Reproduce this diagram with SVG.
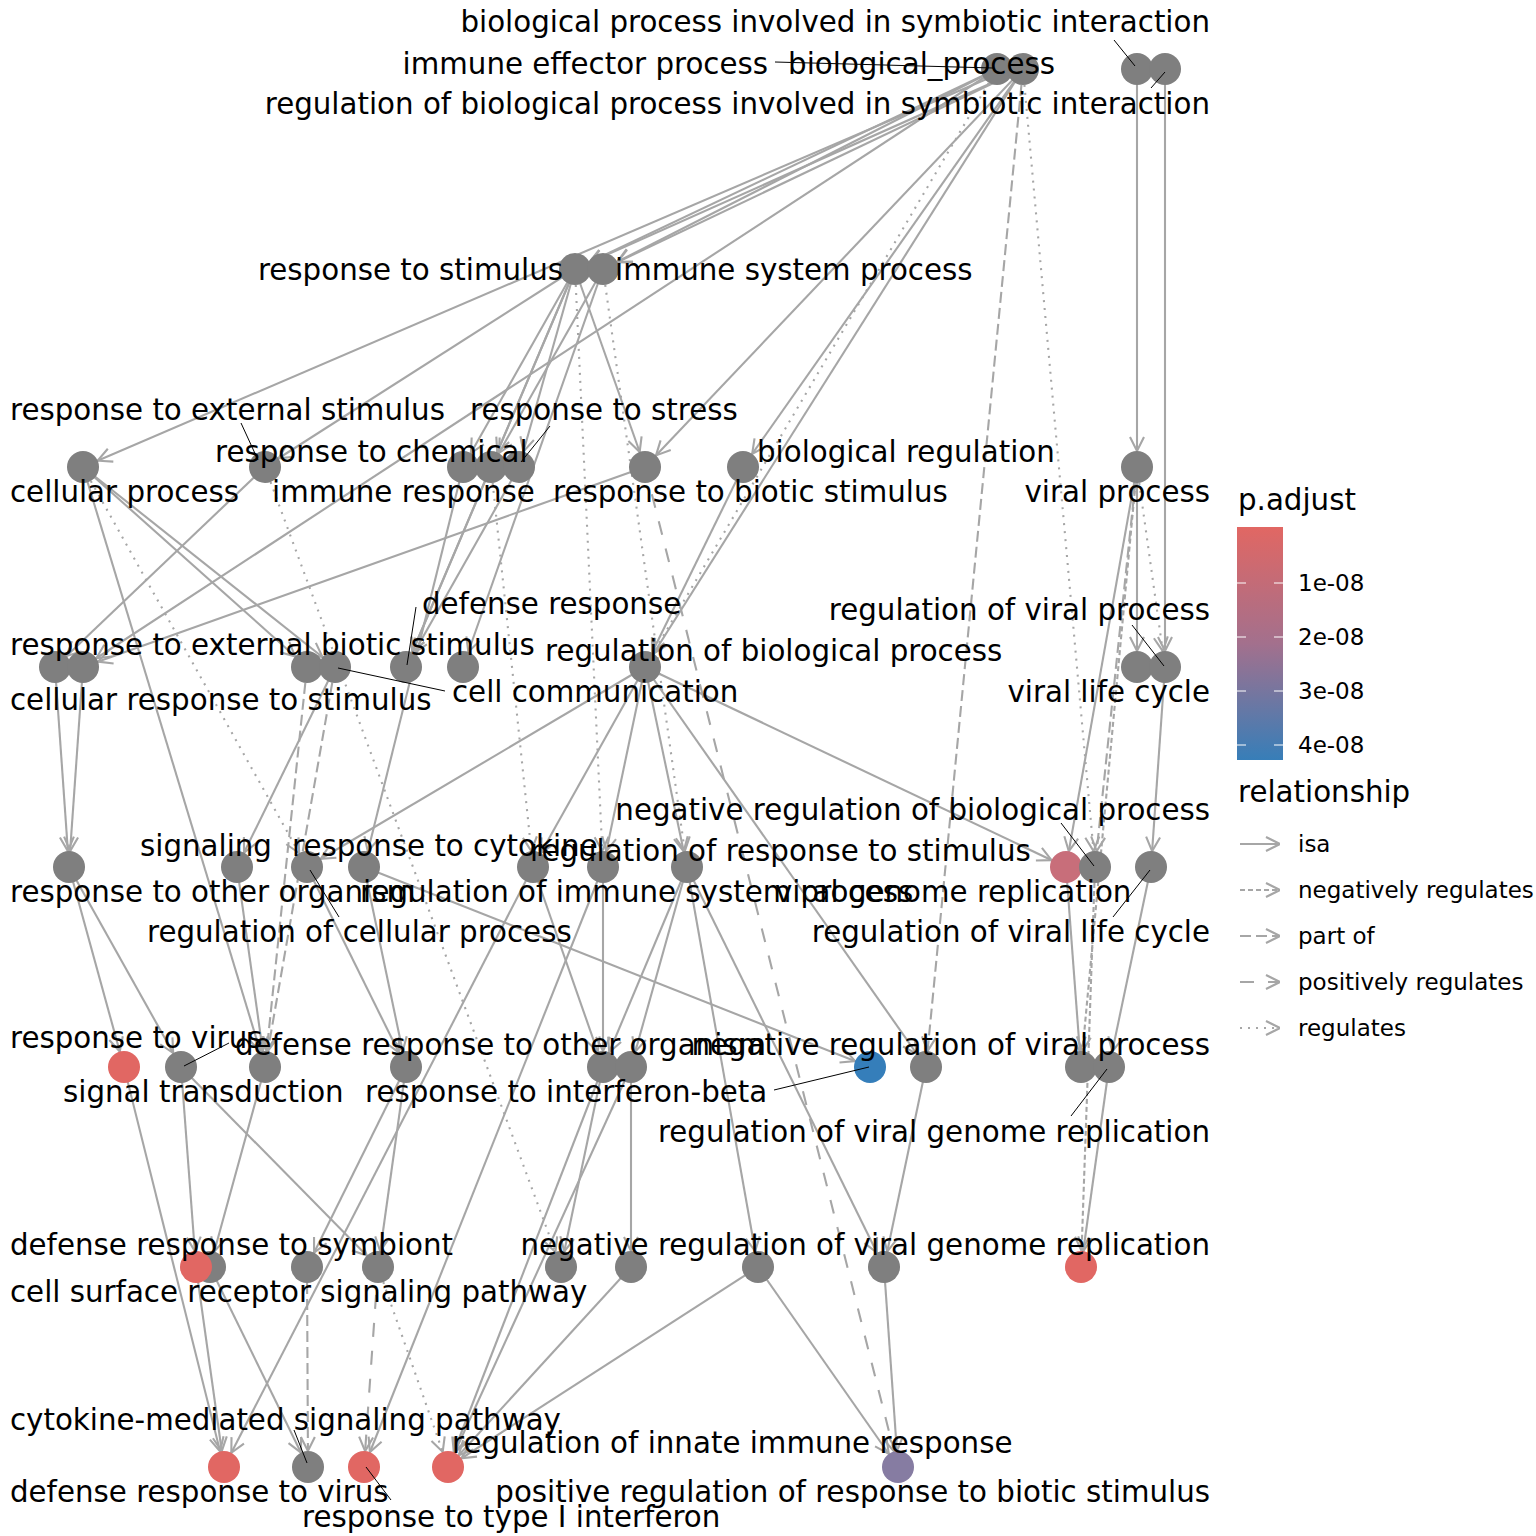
<svg xmlns="http://www.w3.org/2000/svg" width="1536" height="1536" viewBox="0 0 1536 1536">
<style>
text{font-family:"DejaVu Sans","Liberation Sans",sans-serif;fill:#000}
.lb{font-size:29.3px}
.lg{font-size:23px}
.e{stroke:#A6A6A6;stroke-width:2.1;fill:none}
.isa{marker-end:url(#aS)}
.neg{stroke-dasharray:5 3;marker-end:url(#aS)}
.part{stroke-dasharray:11 5;marker-end:url(#aS)}
.pos{stroke-dasharray:14 14;marker-end:url(#aS)}
.reg{stroke-dasharray:2 6;marker-end:url(#aS)}
.k{stroke:#A6A6A6;stroke-width:2.1;fill:none;marker-end:url(#aL)}
.g{fill:#7F7F7F}
.r{fill:#E16763}
.ld{stroke:#000;stroke-width:1}
</style>
<defs>
<marker id="aS" viewBox="-40 -20 40 40" markerWidth="40" markerHeight="40" refX="0" refY="0" orient="auto" markerUnits="userSpaceOnUse">
<path d="M-30,-7 L-16,0 L-30,7" fill="none" stroke="#A6A6A6" stroke-width="2.1"/>
</marker>
<marker id="aL" viewBox="-40 -20 40 40" markerWidth="40" markerHeight="40" refX="0" refY="0" orient="auto" markerUnits="userSpaceOnUse">
<path d="M-14,-7 L0,0 L-14,7" fill="none" stroke="#A6A6A6" stroke-width="2.1"/>
</marker>
<linearGradient id="grad" x1="0" y1="0" x2="0" y2="1">
<stop offset="0" stop-color="#E16763"/>
<stop offset="0.5" stop-color="#A3708D"/>
<stop offset="1" stop-color="#377EB8"/>
</linearGradient>
</defs>
<rect width="1536" height="1536" fill="#fff"/>
<g id="connectors">
<line class="e isa" x1="1023" y1="69" x2="575" y2="269"/>
<line class="e isa" x1="997" y1="69" x2="575" y2="269"/>
<line class="e isa" x1="1023" y1="69" x2="603" y2="269"/>
<line class="e isa" x1="997" y1="69" x2="603" y2="269"/>
<line class="e isa" x1="1010" y1="69" x2="83" y2="467"/>
<line class="e isa" x1="997" y1="69" x2="83" y2="667"/>
<line class="e isa" x1="1023" y1="69" x2="743" y2="467"/>
<line class="e isa" x1="1023" y1="69" x2="645" y2="467"/>
<line class="e isa" x1="1023" y1="69" x2="645" y2="667"/>
<line class="e isa" x1="1137" y1="69" x2="1137" y2="467"/>
<line class="e isa" x1="1165" y1="69" x2="1165" y2="667"/>
<line class="e isa" x1="575" y1="269" x2="265" y2="467"/>
<line class="e isa" x1="575" y1="269" x2="463" y2="467"/>
<line class="e isa" x1="575" y1="269" x2="491" y2="467"/>
<line class="e isa" x1="575" y1="269" x2="519" y2="467"/>
<line class="e isa" x1="575" y1="269" x2="645" y2="467"/>
<line class="e isa" x1="575" y1="269" x2="406" y2="667"/>
<line class="e isa" x1="603" y1="269" x2="491" y2="467"/>
<line class="e isa" x1="603" y1="269" x2="463" y2="667"/>
<line class="e isa" x1="83" y1="467" x2="307" y2="667"/>
<line class="e isa" x1="83" y1="467" x2="335" y2="667"/>
<line class="e isa" x1="83" y1="467" x2="265" y2="1067"/>
<line class="e isa" x1="265" y1="467" x2="55" y2="667"/>
<line class="e isa" x1="645" y1="467" x2="83" y2="667"/>
<line class="e isa" x1="519" y1="467" x2="406" y2="667"/>
<line class="e isa" x1="491" y1="467" x2="406" y2="667"/>
<line class="e isa" x1="463" y1="467" x2="364" y2="867"/>
<line class="e isa" x1="743" y1="467" x2="645" y2="667"/>
<line class="e isa" x1="1137" y1="467" x2="1137" y2="667"/>
<line class="e isa" x1="1137" y1="467" x2="1066" y2="867"/>
<line class="e isa" x1="55" y1="667" x2="69" y2="867"/>
<line class="e isa" x1="83" y1="667" x2="69" y2="867"/>
<line class="e isa" x1="335" y1="667" x2="237" y2="867"/>
<line class="e isa" x1="645" y1="667" x2="307" y2="867"/>
<line class="e isa" x1="645" y1="667" x2="533" y2="867"/>
<line class="e isa" x1="645" y1="667" x2="603" y2="867"/>
<line class="e isa" x1="645" y1="667" x2="687" y2="867"/>
<line class="e isa" x1="645" y1="667" x2="1066" y2="867"/>
<line class="e isa" x1="645" y1="667" x2="926" y2="1067"/>
<line class="e isa" x1="1165" y1="667" x2="1151" y2="867"/>
<line class="e isa" x1="69" y1="867" x2="124" y2="1067"/>
<line class="e isa" x1="69" y1="867" x2="181" y2="1067"/>
<line class="e isa" x1="237" y1="867" x2="265" y2="1067"/>
<line class="e isa" x1="307" y1="867" x2="406" y2="1067"/>
<line class="e isa" x1="364" y1="867" x2="406" y2="1067"/>
<line class="e isa" x1="364" y1="867" x2="870" y2="1067"/>
<line class="e isa" x1="533" y1="867" x2="603" y2="1067"/>
<line class="e isa" x1="533" y1="867" x2="224" y2="1467"/>
<line class="e isa" x1="603" y1="867" x2="364" y2="1467"/>
<line class="e isa" x1="687" y1="867" x2="631" y2="1067"/>
<line class="e isa" x1="687" y1="867" x2="603" y2="1067"/>
<line class="e isa" x1="687" y1="867" x2="758" y2="1267"/>
<line class="e isa" x1="687" y1="867" x2="884" y2="1267"/>
<line class="e isa" x1="603" y1="867" x2="603" y2="1067"/>
<line class="e isa" x1="1066" y1="867" x2="1081" y2="1067"/>
<line class="e isa" x1="1151" y1="867" x2="1109" y2="1067"/>
<line class="e isa" x1="124" y1="1067" x2="224" y2="1467"/>
<line class="e isa" x1="181" y1="1067" x2="196" y2="1267"/>
<line class="e isa" x1="181" y1="1067" x2="378" y2="1267"/>
<line class="e isa" x1="265" y1="1067" x2="210" y2="1267"/>
<line class="e isa" x1="406" y1="1067" x2="307" y2="1267"/>
<line class="e isa" x1="406" y1="1067" x2="378" y2="1267"/>
<line class="e isa" x1="603" y1="1067" x2="561" y2="1267"/>
<line class="e isa" x1="603" y1="1067" x2="448" y2="1467"/>
<line class="e isa" x1="631" y1="1067" x2="448" y2="1467"/>
<line class="e isa" x1="631" y1="1067" x2="631" y2="1267"/>
<line class="e isa" x1="926" y1="1067" x2="884" y2="1267"/>
<line class="e isa" x1="1109" y1="1067" x2="1081" y2="1267"/>
<line class="e isa" x1="196" y1="1267" x2="224" y2="1467"/>
<line class="e isa" x1="210" y1="1267" x2="308" y2="1467"/>
<line class="e isa" x1="631" y1="1267" x2="448" y2="1467"/>
<line class="e isa" x1="758" y1="1267" x2="448" y2="1467"/>
<line class="e isa" x1="758" y1="1267" x2="898" y2="1467"/>
<line class="e isa" x1="884" y1="1267" x2="898" y2="1467"/>
<line class="e reg" x1="575" y1="269" x2="603" y2="867"/>
<line class="e reg" x1="603" y1="269" x2="687" y2="867"/>
<line class="e reg" x1="83" y1="467" x2="307" y2="867"/>
<line class="e reg" x1="265" y1="467" x2="561" y2="1267"/>
<line class="e reg" x1="1023" y1="69" x2="1095" y2="867"/>
<line class="e reg" x1="997" y1="69" x2="645" y2="667"/>
<line class="e reg" x1="1137" y1="467" x2="1165" y2="667"/>
<line class="e reg" x1="491" y1="467" x2="533" y2="867"/>
<line class="e reg" x1="378" y1="1267" x2="448" y2="1467"/>
<line class="e neg" x1="1137" y1="467" x2="1081" y2="1067"/>
<line class="e neg" x1="1095" y1="867" x2="1081" y2="1267"/>
<line class="e part" x1="1023" y1="69" x2="926" y2="1067"/>
<line class="e part" x1="307" y1="667" x2="265" y2="1067"/>
<line class="e part" x1="335" y1="667" x2="265" y2="1067"/>
<line class="e part" x1="1137" y1="467" x2="1095" y2="867"/>
<line class="e part" x1="307" y1="1267" x2="308" y2="1467"/>
<line class="e pos" x1="645" y1="467" x2="898" y2="1467"/>
<line class="e pos" x1="378" y1="1267" x2="364" y2="1467"/>
</g>
<g id="nodes">
<g id="n_iep"><circle class="g" cx="997" cy="69" r="16"/></g>
<g id="n_bp"><circle class="g" cx="1023" cy="69" r="16"/></g>
<g id="n_bpsi"><circle class="g" cx="1137" cy="69" r="16"/></g>
<g id="n_rbpsi"><circle class="g" cx="1165" cy="69" r="16"/></g>
<g id="n_rs"><circle class="g" cx="575" cy="269" r="16"/></g>
<g id="n_isp"><circle class="g" cx="603" cy="269" r="16"/></g>
<g id="n_cp"><circle class="g" cx="83" cy="467" r="16"/></g>
<g id="n_res"><circle class="g" cx="265" cy="467" r="16"/></g>
<g id="n_rc"><circle class="g" cx="463" cy="467" r="16"/></g>
<g id="n_ir"><circle class="g" cx="491" cy="467" r="16"/></g>
<g id="n_rst"><circle class="g" cx="519" cy="467" r="16"/></g>
<g id="n_rbs"><circle class="g" cx="645" cy="467" r="16"/></g>
<g id="n_br"><circle class="g" cx="743" cy="467" r="16"/></g>
<g id="n_vp"><circle class="g" cx="1137" cy="467" r="16"/></g>
<g id="n_rebs"><circle class="g" cx="55" cy="667" r="16"/></g>
<g id="n_crs"><circle class="g" cx="83" cy="667" r="16"/></g>
<g id="n_307_667"><circle class="g" cx="307" cy="667" r="16"/></g>
<g id="n_cc"><circle class="g" cx="335" cy="667" r="16"/></g>
<g id="n_dr"><circle class="g" cx="406" cy="667" r="16"/></g>
<g id="n_463_667"><circle class="g" cx="463" cy="667" r="16"/></g>
<g id="n_rbp"><circle class="g" cx="645" cy="667" r="16"/></g>
<g id="n_vlc"><circle class="g" cx="1137" cy="667" r="16"/></g>
<g id="n_rvp"><circle class="g" cx="1165" cy="667" r="16"/></g>
<g id="n_roo"><circle class="g" cx="69" cy="867" r="16"/></g>
<g id="n_sig"><circle class="g" cx="237" cy="867" r="16"/></g>
<g id="n_rcp"><circle class="g" cx="307" cy="867" r="16"/></g>
<g id="n_rcy"><circle class="g" cx="364" cy="867" r="16"/></g>
<g id="n_533_867"><circle class="g" cx="533" cy="867" r="16"/></g>
<g id="n_603_867"><circle class="g" cx="603" cy="867" r="16"/></g>
<g id="n_687_867"><circle class="g" cx="687" cy="867" r="16"/></g>
<g id="n_vgr"><circle fill="#C86E7A" cx="1066" cy="867" r="16"/></g>
<g id="n_nrbp"><circle class="g" cx="1095" cy="867" r="16"/></g>
<g id="n_rvlc"><circle class="g" cx="1151" cy="867" r="16"/></g>
<g id="n_rv"><circle class="r" cx="124" cy="1067" r="16"/></g>
<g id="n_droo"><circle class="g" cx="181" cy="1067" r="16"/></g>
<g id="n_st"><circle class="g" cx="265" cy="1067" r="16"/></g>
<g id="n_406_1067"><circle class="g" cx="406" cy="1067" r="16"/></g>
<g id="n_603_1067"><circle class="g" cx="603" cy="1067" r="16"/></g>
<g id="n_631_1067"><circle class="g" cx="631" cy="1067" r="16"/></g>
<g id="n_rib"><circle fill="#357EBA" cx="870" cy="1067" r="16"/></g>
<g id="n_nrvp"><circle class="g" cx="926" cy="1067" r="16"/></g>
<g id="n_1081_1067"><circle class="g" cx="1081" cy="1067" r="16"/></g>
<g id="n_rvgr"><circle class="g" cx="1109" cy="1067" r="16"/></g>
<g id="n_210_1267"><circle class="g" cx="210" cy="1267" r="16"/></g>
<g id="n_drs"><circle class="r" cx="196" cy="1267" r="16"/></g>
<g id="n_307_1267"><circle class="g" cx="307" cy="1267" r="16"/></g>
<g id="n_378_1267"><circle class="g" cx="378" cy="1267" r="16"/></g>
<g id="n_561_1267"><circle class="g" cx="561" cy="1267" r="16"/></g>
<g id="n_631_1267"><circle class="g" cx="631" cy="1267" r="16"/></g>
<g id="n_758_1267"><circle class="g" cx="758" cy="1267" r="16"/></g>
<g id="n_884_1267"><circle class="g" cx="884" cy="1267" r="16"/></g>
<g id="n_nrvgr"><circle class="r" cx="1081" cy="1267" r="16"/></g>
<g id="n_drv"><circle class="r" cx="224" cy="1467" r="16"/></g>
<g id="n_cmsp"><circle class="g" cx="308" cy="1467" r="16"/></g>
<g id="n_rt1"><circle class="r" cx="364" cy="1467" r="16"/></g>
<g id="n_riir"><circle class="r" cx="448" cy="1467" r="16"/></g>
<g id="n_prrbs"><circle fill="#867CA2" cx="898" cy="1467" r="16"/></g>
</g>
<g id="labels">
<line class="ld" x1="1114" y1="40" x2="1135" y2="66"/>
<line class="ld" x1="775" y1="62" x2="993" y2="68"/>
<line class="ld" x1="1151" y1="88" x2="1165" y2="72"/>
<line class="ld" x1="241" y1="423" x2="258" y2="460"/>
<line class="ld" x1="550" y1="426" x2="521" y2="462"/>
<line class="ld" x1="416" y1="607" x2="407" y2="665"/>
<line class="ld" x1="338" y1="668" x2="445" y2="691"/>
<line class="ld" x1="1132" y1="625" x2="1164" y2="666"/>
<line class="ld" x1="310" y1="870" x2="339" y2="917"/>
<line class="ld" x1="1061" y1="823" x2="1094" y2="866"/>
<line class="ld" x1="1150" y1="870" x2="1113" y2="917"/>
<line class="ld" x1="229" y1="1043" x2="184" y2="1066"/>
<line class="ld" x1="774" y1="1090" x2="869" y2="1067"/>
<line class="ld" x1="1071" y1="1116" x2="1107" y2="1069"/>
<line class="ld" x1="294" y1="1430" x2="307" y2="1463"/>
<line class="ld" x1="366" y1="1467" x2="391" y2="1500"/>
<text class="lb" x="1210" y="32" text-anchor="end">biological process involved in symbiotic interaction</text>
<text class="lb" x="768" y="74" text-anchor="end">immune effector process</text>
<text class="lb" x="1055" y="74" text-anchor="end">biological_process</text>
<text class="lb" x="1210" y="114" text-anchor="end">regulation of biological process involved in symbiotic interaction</text>
<text class="lb" x="563" y="280" text-anchor="end">response to stimulus</text>
<text class="lb" x="615" y="280">immune system process</text>
<text class="lb" x="10" y="420">response to external stimulus</text>
<text class="lb" x="470" y="420">response to stress</text>
<text class="lb" x="215" y="462">response to chemical</text>
<text class="lb" x="757" y="462">biological regulation</text>
<text class="lb" x="10" y="502">cellular process</text>
<text class="lb" x="272" y="502">immune response</text>
<text class="lb" x="553" y="502">response to biotic stimulus</text>
<text class="lb" x="1210" y="502" text-anchor="end">viral process</text>
<text class="lb" x="422" y="614">defense response</text>
<text class="lb" x="1210" y="620" text-anchor="end">regulation of viral process</text>
<text class="lb" x="10" y="655">response to external biotic stimulus</text>
<text class="lb" x="545" y="661">regulation of biological process</text>
<text class="lb" x="452" y="702">cell communication</text>
<text class="lb" x="10" y="710">cellular response to stimulus</text>
<text class="lb" x="1210" y="702" text-anchor="end">viral life cycle</text>
<text class="lb" x="1210" y="820" text-anchor="end">negative regulation of biological process</text>
<text class="lb" x="140" y="856">signaling</text>
<text class="lb" x="292" y="856">response to cytokine</text>
<text class="lb" x="530" y="861">regulation of response to stimulus</text>
<text class="lb" x="10" y="902">response to other organism</text>
<text class="lb" x="360" y="902">regulation of immune system process</text>
<text class="lb" x="775" y="902">viral genome replication</text>
<text class="lb" x="147" y="942">regulation of cellular process</text>
<text class="lb" x="1210" y="942" text-anchor="end">regulation of viral life cycle</text>
<text class="lb" x="10" y="1048">response to virus</text>
<text class="lb" x="235" y="1055">defense response to other organism</text>
<text class="lb" x="1210" y="1055" text-anchor="end">negative regulation of viral process</text>
<text class="lb" x="63" y="1102">signal transduction</text>
<text class="lb" x="365" y="1102">response to interferon-beta</text>
<text class="lb" x="1210" y="1142" text-anchor="end">regulation of viral genome replication</text>
<text class="lb" x="10" y="1255">defense response to symbiont</text>
<text class="lb" x="1210" y="1255" text-anchor="end">negative regulation of viral genome replication</text>
<text class="lb" x="10" y="1302">cell surface receptor signaling pathway</text>
<text class="lb" x="10" y="1430">cytokine-mediated signaling pathway</text>
<text class="lb" x="452" y="1453">regulation of innate immune response</text>
<text class="lb" x="10" y="1502">defense response to virus</text>
<text class="lb" x="1210" y="1502" text-anchor="end">positive regulation of response to biotic stimulus</text>
<text class="lb" x="302" y="1527">response to type I interferon</text>
</g>
<g id="legend">
<text class="lb" x="1238" y="510">p.adjust</text>
<rect x="1237" y="527" width="46" height="233" fill="url(#grad)"/>
<g stroke="#fff" stroke-width="1">
<line x1="1237" y1="583" x2="1246" y2="583"/><line x1="1274" y1="583" x2="1283" y2="583"/>
<line x1="1237" y1="637" x2="1246" y2="637"/><line x1="1274" y1="637" x2="1283" y2="637"/>
<line x1="1237" y1="691" x2="1246" y2="691"/><line x1="1274" y1="691" x2="1283" y2="691"/>
<line x1="1237" y1="745" x2="1246" y2="745"/><line x1="1274" y1="745" x2="1283" y2="745"/>
</g>
<text class="lg" x="1298" y="591">1e-08</text>
<text class="lg" x="1298" y="645">2e-08</text>
<text class="lg" x="1298" y="699">3e-08</text>
<text class="lg" x="1298" y="753">4e-08</text>
<text class="lb" x="1238" y="802">relationship</text>
<line class="k" x1="1240" y1="844" x2="1280" y2="844"/>
<line class="k" x1="1240" y1="890" x2="1280" y2="890" stroke-dasharray="5 3"/>
<line class="k" x1="1240" y1="936" x2="1280" y2="936" stroke-dasharray="11 5"/>
<line class="k" x1="1240" y1="982" x2="1280" y2="982" stroke-dasharray="14 14"/>
<line class="k" x1="1240" y1="1028" x2="1280" y2="1028" stroke-dasharray="2 6"/>
<text class="lg" x="1298" y="852">isa</text>
<text class="lg" x="1298" y="898">negatively regulates</text>
<text class="lg" x="1298" y="944">part of</text>
<text class="lg" x="1298" y="990">positively regulates</text>
<text class="lg" x="1298" y="1036">regulates</text>
</g>
</svg>
